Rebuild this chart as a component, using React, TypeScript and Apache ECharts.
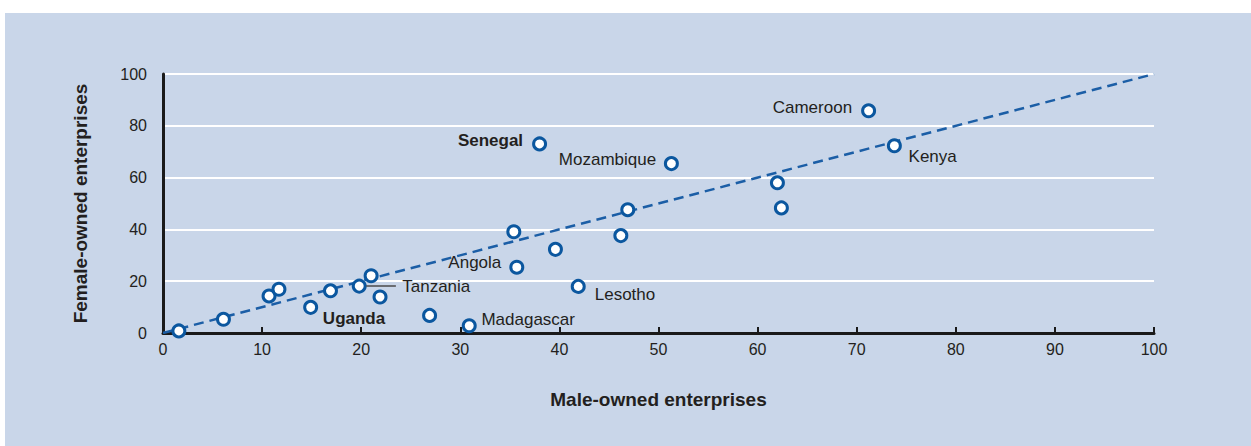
import React, { useEffect, useRef } from "react";
import * as echarts from "echarts";

const countryNames = ["", "", "", "", "Uganda", "", "Tanzania", "", "", "", "Madagascar", "", "Angola", "Senegal", "", "Lesotho", "", "", "Mozambique", "", "", "Cameroon", "Kenya"];
const maleOwned = [1.6, 6.1, 10.7, 11.7, 14.9, 16.9, 19.8, 21.0, 21.9, 26.9, 30.9, 35.4, 35.7, 38.0, 39.6, 41.9, 46.2, 46.9, 51.3, 62.0, 62.4, 71.2, 73.8];
const femaleOwned = [0.8, 5.3, 14.3, 16.9, 9.9, 16.3, 18.1, 22.1, 13.9, 6.8, 2.8, 39.1, 25.4, 73.0, 32.3, 18.0, 37.6, 47.6, 65.4, 58.0, 48.3, 85.8, 72.3];
const parityLine = [[0, 0], [100, 100]];
const xTicks = [0, 10, 20, 30, 40, 50, 60, 70, 80, 90, 100];
const yTicks = [0, 20, 40, 60, 80, 100];
const boldNames = ["Senegal", "Uganda"];

const FONT = "'Liberation Sans Narrow', 'Arial Narrow', 'Liberation Sans', Arial, sans-serif";
const TEXT = "#231f20";
const BLUE = "#0b579f";

const labelPlacement: Record<string, { position: string; distance: number; offset: number[] }> = {
  Senegal: { position: "left", distance: 9, offset: [0, -3] },
  Mozambique: { position: "left", distance: 7.7, offset: [0, -4] },
  Cameroon: { position: "left", distance: 9, offset: [0, -3] },
  Angola: { position: "left", distance: 8, offset: [0, -5] },
  Kenya: { position: "right", distance: 6.7, offset: [0, 11] },
  Lesotho: { position: "right", distance: 9, offset: [0, 8] },
  Madagascar: { position: "right", distance: 4.7, offset: [0, -6] },
  Uganda: { position: "right", distance: 4.7, offset: [0, 11] },
  Tanzania: { position: "right", distance: 35.5, offset: [0, 0] },
};

export default function App() {
  const ref = useRef<HTMLDivElement>(null);
  useEffect(() => {
    if (!ref.current) return;
    const chart = echarts.init(ref.current, null, { renderer: "svg" });
    const points = maleOwned.map((x, i) => {
      const name = countryNames[i];
      const item: any = { value: [x, femaleOwned[i]], name };
      if (name) {
        const p = labelPlacement[name];
        item.label = {
          show: true,
          formatter: name,
          position: p.position,
          distance: p.distance,
          offset: p.offset,
          fontWeight: boldNames.includes(name) ? "bold" : "normal",
        };
      }
      return item;
    });
    const tzIdx = countryNames.indexOf("Tanzania");
    const tzX = maleOwned[tzIdx];
    const tzY = femaleOwned[tzIdx];
    chart.setOption({
      animation: false,
      backgroundColor: "transparent",
      graphic: [
        {
          type: "rect",
          shape: { x: 5, y: 13, width: 1246, height: 433 },
          style: { fill: "#c9d6e9" },
          z: -10,
          silent: true,
        },
      ],
      grid: { left: 163, right: 97, top: 74, bottom: 113 },
      xAxis: {
        type: "value",
        min: xTicks[0],
        max: xTicks[xTicks.length - 1],
        interval: xTicks[1] - xTicks[0],
        name: "Male-owned enterprises",
        nameLocation: "middle",
        nameGap: 57,
        nameTextStyle: { fontFamily: FONT, fontSize: 19, fontWeight: "bold", color: TEXT },
        axisLine: { show: true, lineStyle: { color: "#1a1a1a", width: 3 } },
        axisTick: { show: true, inside: true, length: 6, lineStyle: { color: "#1a1a1a", width: 2 } },
        axisLabel: { fontFamily: FONT, fontSize: 16, color: TEXT, margin: 8 },
        splitLine: { show: false },
      },
      yAxis: {
        type: "value",
        min: yTicks[0],
        max: yTicks[yTicks.length - 1],
        interval: yTicks[1] - yTicks[0],
        name: "Female-owned enterprises",
        nameLocation: "middle",
        nameGap: 73,
        nameTextStyle: { fontFamily: FONT, fontSize: 19, fontWeight: "bold", color: TEXT },
        axisLine: { show: true, lineStyle: { color: "#1a1a1a", width: 3 } },
        axisTick: { show: false },
        axisLabel: { fontFamily: FONT, fontSize: 16, color: TEXT, margin: 16 },
        splitLine: { show: true, lineStyle: { color: "#ffffff", width: 2 } },
      },
      series: [
        {
          type: "line",
          data: parityLine,
          symbol: "none",
          silent: true,
          lineStyle: { color: "#1b5ea6", width: 2.5, type: [10, 6] },
          z: 2,
        },
        {
          type: "scatter",
          data: points,
          symbol: "circle",
          symbolSize: 12,
          itemStyle: { color: "#ffffff", borderColor: BLUE, borderWidth: 3, opacity: 1 },
          label: { fontFamily: FONT, fontSize: 17, color: TEXT },
          z: 3,
          markLine: {
            silent: true,
            symbol: "none",
            label: { show: false },
            lineStyle: { color: "#4a4a4a", width: 1.5, type: "solid" },
            data: [[{ coord: [tzX + 0.7, tzY] }, { coord: [tzX + 3.7, tzY] }]],
          },
        },
      ],
    });
    return () => chart.dispose();
  }, []);
  return (
    <div style={{ position: "fixed", left: 0, top: 0, width: 1251, height: 446, background: "#ffffff" }}>
      <div ref={ref} style={{ width: 1251, height: 446 }} />
    </div>
  );
}
